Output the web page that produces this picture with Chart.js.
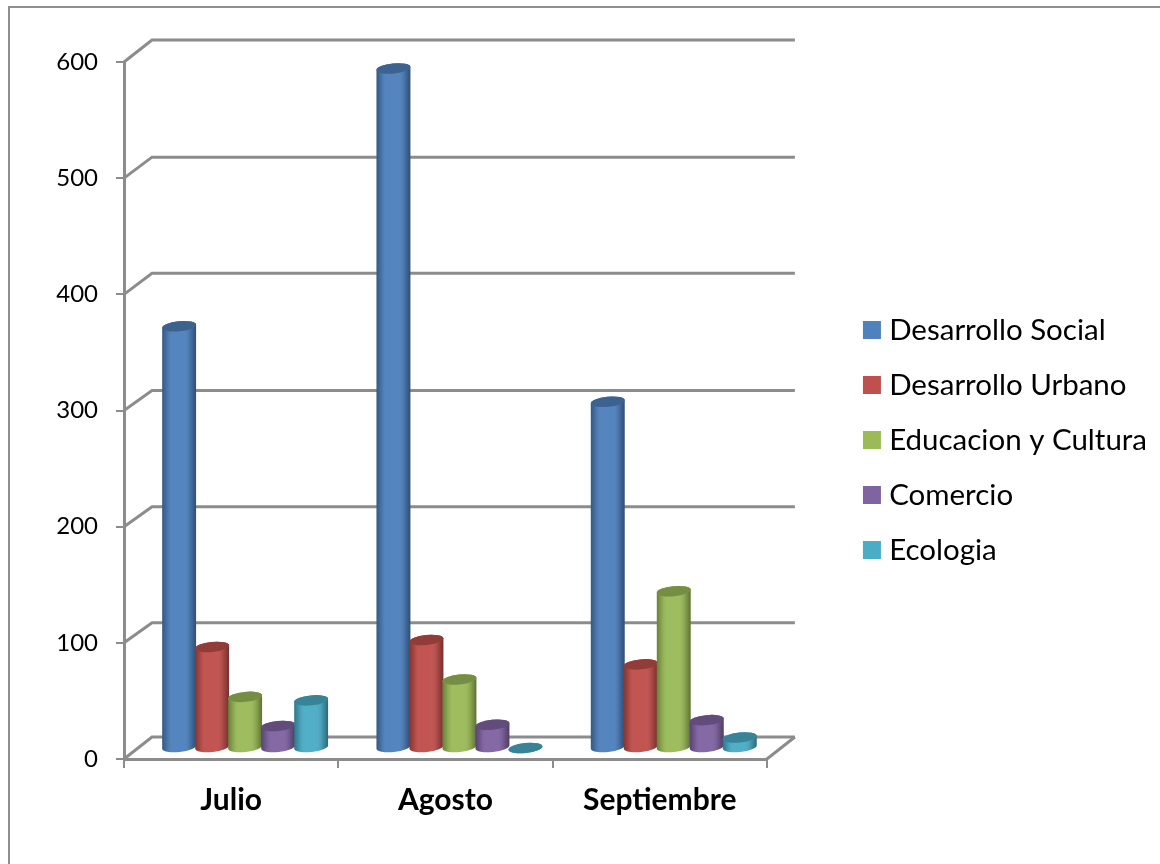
<!DOCTYPE html>
<html>
<head>
<meta charset="utf-8">
<title>Grafico</title>
<style>
    body { margin: 0; background: #fff; overflow: hidden; }
    #marco { position: absolute; left: 8px; top: 6px; width: 1200px; height: 900px; border: 2px solid #8e8e8e; }
    #grafico { position: absolute; left: 0; top: 0; }
</style>
<script src="https://cdn.jsdelivr.net/npm/chart.js@4"></script>
</head>
<body>
<div id="marco"></div>
<canvas id="grafico" width="1160" height="864"></canvas>
<script>
// datos
const meses = ['Julio', 'Agosto', 'Septiembre'];
const desarrolloSocial = [363, 585, 298];
const desarrolloUrbano = [87, 93, 72];
const educacionCultura = [44, 59, 135];
const comercio = [19, 20, 24];
const ecologia = [41, 0, 9];
const nombres = ['Desarrollo Social', 'Desarrollo Urbano', 'Educacion y Cultura', 'Comercio', 'Ecologia'];
const colores = ['#4f81bd', '#c0504d', '#9bbb59', '#8064a2', '#4bacc6'];
const ticksY = [0, 100, 200, 300, 400, 500, 600];

// desplazamiento de la pared del fondo
const fondoX = 28;
const fondoY = -22;
// la caida real de cada linea del fondo varia un poco
const caidaFondo = [-22, -20, -20, -20, -21, -21, -22];
const gris = '#8c8c8c';

// cuadrito de la leyenda corrido a la derecha p/ acercarlo al texto
function cuadrito(color) {
    const c = document.createElement('canvas');
    c.width = 30;
    c.height = 18;
    const g = c.getContext('2d');
    g.fillStyle = color;
    g.fillRect(10, 0, 18, 18);
    return c;
}

// dibuja un cilindro a partir de la barra que calculo Chart.js
function cilindro(ctx, barra, color) {
    const rx = 17, ry = 5, giro = -0.1;
    const cx = barra.x + fondoX / 2;
    const arriba = barra.y + fondoY / 2;
    const abajo = barra.base + fondoY / 2;

    ctx.beginPath();
    ctx.ellipse(cx, abajo, rx, ry, giro, 0, Math.PI);
    ctx.ellipse(cx, arriba, rx, ry, giro, Math.PI, Math.PI * 2);
    ctx.closePath();
    ctx.fillStyle = color;
    ctx.fill();

    const sombra = ctx.createLinearGradient(cx - rx, 0, cx + rx, 0);
    sombra.addColorStop(0, 'rgba(0,0,0,0.32)');
    sombra.addColorStop(0.14, 'rgba(0,0,0,0.12)');
    sombra.addColorStop(0.32, 'rgba(255,255,255,0.03)');
    sombra.addColorStop(0.62, 'rgba(255,255,255,0.03)');
    sombra.addColorStop(0.84, 'rgba(0,0,0,0.14)');
    sombra.addColorStop(1, 'rgba(0,0,0,0.4)');
    ctx.fillStyle = sombra;
    ctx.fill();

    // tapa
    ctx.beginPath();
    ctx.ellipse(cx, arriba, rx, ry, giro, 0, Math.PI * 2);
    ctx.fillStyle = color;
    ctx.fill();
    ctx.fillStyle = 'rgba(0,0,0,0.24)';
    ctx.fill();
}

const pluginTresD = {
    id: 'tresD',
    // lineas de la pared y del piso
    beforeDatasetsDraw(chart) {
        const ctx = chart.ctx;
        const { x, y } = chart.scales;
        ctx.save();
        ctx.strokeStyle = gris;
        ctx.lineWidth = 3;
        ticksY.forEach(function(v, i) {
            const py = y.getPixelForValue(v);
            ctx.beginPath();
            ctx.moveTo(x.left, py);
            ctx.lineTo(x.left + fondoX, py + caidaFondo[i]);
            ctx.lineTo(x.right + fondoX, py + caidaFondo[i]);
            ctx.stroke();
        });
        ctx.beginPath();
        ctx.moveTo(x.right, y.bottom);
        ctx.lineTo(x.right + fondoX, y.bottom + fondoY);
        ctx.stroke();
        ctx.restore();
    },
    // no usar la barra normal
    beforeDatasetDraw() {
        return false;
    },
    afterDatasetsDraw(chart) {
        const ctx = chart.ctx;
        ctx.save();
        chart.data.datasets.forEach(function(ds, i) {
            chart.getDatasetMeta(i).data.forEach(function(barra) {
                cilindro(ctx, barra, ds.backgroundColor);
            });
        });
        ctx.restore();
    }
};

const series = [desarrolloSocial, desarrolloUrbano, educacionCultura, comercio, ecologia];

new Chart(document.getElementById('grafico').getContext('2d'), {
    type: 'bar',
    plugins: [pluginTresD],
    data: {
        labels: meses,
        datasets: series.map(function(valores, i) {
            return {
                label: nombres[i],
                data: valores,
                backgroundColor: colores[i],
                yAxisID: 'y'
            };
        })
    },
    options: {
        responsive: false,
        animation: false,
        datasets: { bar: { barPercentage: 1, categoryPercentage: 0.77 } },
        layout: { padding: { top: 62, left: 0, right: 3, bottom: 46 } },
        plugins: {
            tooltip: { enabled: false },
            title: { display: false },
            legend: {
                position: 'right',
                maxWidth: 500,
                labels: {
                    usePointStyle: true,
                    pointStyleWidth: 13,
                    padding: 25.5,
                    color: '#000',
                    font: { family: 'Lato', size: 29.5 },
                    generateLabels(chart) {
                        return chart.data.datasets.map(function(ds, i) {
                            return {
                                text: ds.label,
                                fontColor: '#000',
                                pointStyle: cuadrito(ds.backgroundColor),
                                datasetIndex: i,
                                lineWidth: 0
                            };
                        });
                    }
                }
            }
        },
        scales: {
            x: {
                grid: { drawOnChartArea: false, color: gris, lineWidth: 2, tickLength: 9 },
                border: { color: gris, width: 3 },
                ticks: { color: '#000', padding: 14, font: { family: 'Lato', size: 30, weight: 'bold' } },
                afterFit(s) { s.height = 59; }
            },
            y: {
                min: 0,
                max: 600,
                grid: { drawOnChartArea: false, color: gris, lineWidth: 2, tickLength: 8 },
                border: { color: gris, width: 3 },
                ticks: { stepSize: 100, color: '#000', padding: 18, font: { family: 'Lato', size: 24 } },
                afterFit(s) { s.width = 124; }
            },
            // eje vacio: solo separa la leyenda del grafico
            derecha: {
                position: 'right',
                grid: { display: false },
                border: { display: false },
                ticks: { display: false },
                afterFit(s) { s.width = 69; }
            }
        }
    }
});
</script>
</body>
</html>
